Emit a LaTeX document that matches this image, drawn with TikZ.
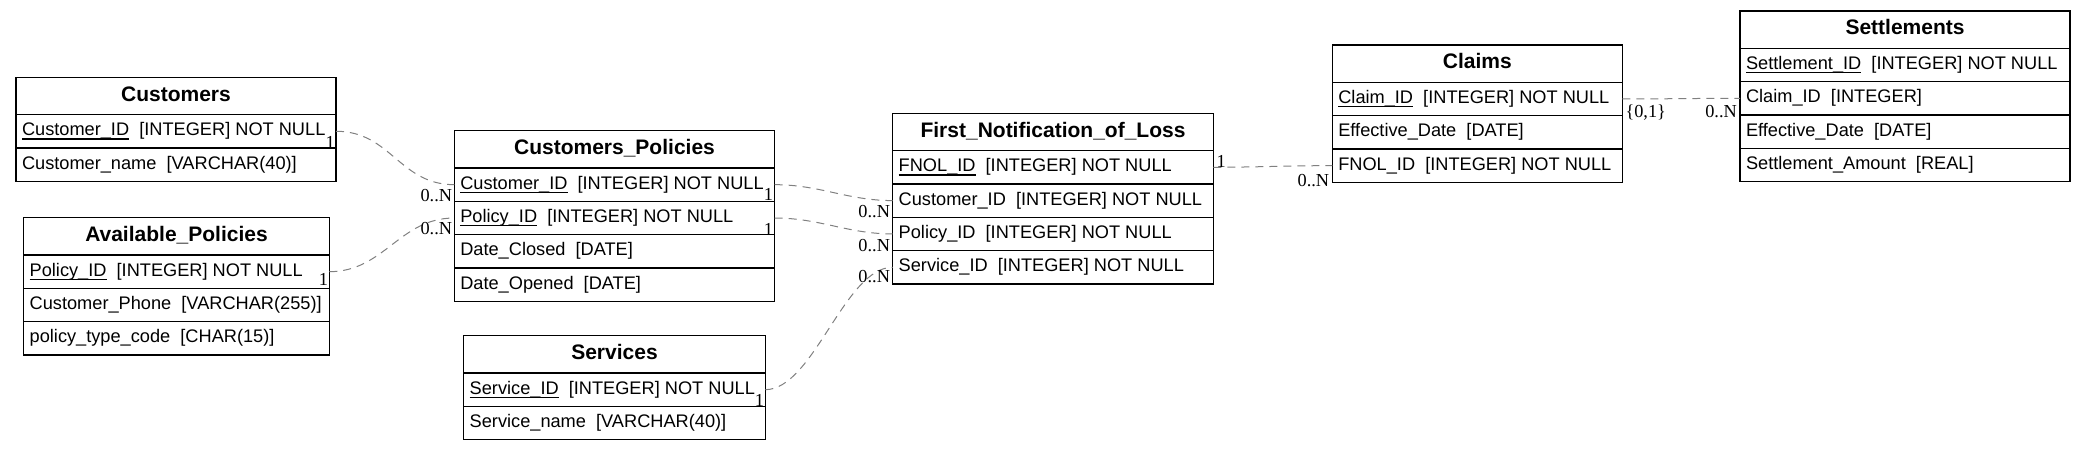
\documentclass[tikz,border=0pt]{standalone}
\usepackage{fontspec}
\setmainfont{Liberation Sans}
\newfontfamily\lblfont{Liberation Serif}
\newcommand\pkey[1]{\setbox0=\hbox{#1}\rlap{\rule[-0.2em]{\wd0}{0.065em}}\box0}
\tikzset{
  tbl/.style={draw, line width=1.3pt, outer sep=0pt, anchor=north west, inner xsep=6pt, inner ysep=0pt},
  ttl/.style={tbl, minimum height=37.3pt, font=\fontsize{21}{25}\selectfont\bfseries, text height=15pt, text depth=4.5pt},
  fld/.style={tbl, minimum height=33.33pt, font=\fontsize{18.2}{22}\selectfont, text height=13.1pt, text depth=3.8pt},
  rel/.style={draw=gray, line width=1pt, dash pattern=on 8pt off 6pt},
  lab/.style={font=\lblfont\fontsize{18.3}{20}\selectfont, inner sep=0pt}
}
\newcommand\mktable[6]{%
  \pgfmathsetmacro\tw{#4-12}%
  \node[ttl] (#1-0) at (#2,#3) {\makebox[\tw pt][c]{#5}};%
  \foreach \r [count=\i, remember=\i as \j (initially 0)] in {#6} {%
    \node[fld] (#1-\i) at (#1-\j.south west) {\makebox[\tw pt][l]{\r}};%
  }%
}
\begin{document}
\begin{tikzpicture}[x=1pt, y=-1pt]
\useasboundingbox (0,0) rectangle (2084,451);

\mktable{cust}{16}{77.3}{320}{Customers}{{\pkey{Customer\_ID}~~[INTEGER] NOT NULL},{Customer\_name~~[VARCHAR(40)]}}
\mktable{avail}{23.7}{217.7}{305.6}{Available\_Policies}{{\pkey{Policy\_ID}~~[INTEGER] NOT NULL},{Customer\_Phone~~[VARCHAR(255)]},{policy\_type\_code~~[CHAR(15)]}}
\mktable{cp}{454.3}{130.7}{320.4}{Customers\_Policies}{{\pkey{Customer\_ID}~~[INTEGER] NOT NULL},{\pkey{Policy\_ID}~~[INTEGER] NOT NULL},{Date\_Closed~~[DATE]},{Date\_Opened~~[DATE]}}
\mktable{serv}{463.7}{335.7}{301.6}{Services}{{\pkey{Service\_ID}~~[INTEGER] NOT NULL},{Service\_name~~[VARCHAR(40)]}}
\mktable{fnol}{892.7}{113.3}{320.6}{First\_Notification\_of\_Loss}{{\pkey{FNOL\_ID}~~[INTEGER] NOT NULL},{Customer\_ID~~[INTEGER] NOT NULL},{Policy\_ID~~[INTEGER] NOT NULL},{Service\_ID~~[INTEGER] NOT NULL}}
\mktable{claims}{1332.3}{45}{290}{Claims}{{\pkey{Claim\_ID}~~[INTEGER] NOT NULL},{Effective\_Date~~[DATE]},{FNOL\_ID~~[INTEGER] NOT NULL}}
\mktable{settle}{1740}{11}{330}{Settlements}{{\pkey{Settlement\_ID}~~[INTEGER] NOT NULL},{Claim\_ID~~[INTEGER]},{Effective\_Date~~[DATE]},{Settlement\_Amount~~[REAL]}}

% connectors
\draw[rel] (cust-1.east) .. controls +(55,0) and +(-55,0) .. (cp-1.west);
\draw[rel] (avail-1.east) .. controls +(55,0) and +(-55,0) .. (cp-2.west);
\draw[rel] (cp-1.east) .. controls +(45,0) and +(-45,0) .. (fnol-2.west);
\draw[rel] (cp-2.east) .. controls +(45,0) and +(-45,0) .. (fnol-3.west);
\draw[rel] (serv-1.east) .. controls +(48,0) and +(-48,0) .. (fnol-4.west);
\draw[rel] (fnol-1.east) .. controls +(40,0) and +(-40,0) .. (claims-3.west);
\draw[rel] (claims-1.east) .. controls +(40,0) and +(-40,0) .. (settle-2.west);

% labels
\node[lab, anchor=north east] (l1t) at ([xshift=-1pt,yshift=-5pt]cust-1.east) {1};
\node[lab, anchor=north east] (l1h) at ([xshift=-2pt,yshift=-4pt]cp-1.west) {0..N};
\node[lab, anchor=north east] (l2t) at ([xshift=-1pt,yshift=-1.5pt]avail-1.east) {1};
\node[lab, anchor=north east] (l2h) at ([xshift=-2pt,yshift=-4pt]cp-2.west) {0..N};
\node[lab, anchor=north east] (l3t) at ([xshift=-1.5pt,yshift=-3.7pt]cp-1.east) {1};
\node[lab, anchor=north east] (l3h) at ([xshift=-2.5pt,yshift=-4.4pt]fnol-2.west) {0..N};
\node[lab, anchor=north east] (l4t) at ([xshift=-1.5pt,yshift=-5pt]cp-2.east) {1};
\node[lab, anchor=north east] (l4h) at ([xshift=-2.5pt,yshift=-5pt]fnol-3.west) {0..N};
\node[lab, anchor=north east] (l5t) at ([xshift=-1pt,yshift=-5pt]serv-1.east) {1};
\node[lab, anchor=north east] (l5h) at ([xshift=-2.5pt,yshift=-3pt]fnol-4.west) {0..N};
\node[lab, anchor=south west] (l6t) at ([xshift=3pt]fnol-1.east) {1};
\node[lab, anchor=north east] (l6h) at ([xshift=-3pt,yshift=-8pt]claims-3.west) {0..N};
\node[lab, anchor=north west] (l7t) at ([xshift=3pt,yshift=-6pt]claims-1.east) {\{0,1\}};
\node[lab, anchor=north east] (l7h) at ([xshift=-3pt,yshift=-7pt]settle-2.west) {0..N};
\end{tikzpicture}
\end{document}
